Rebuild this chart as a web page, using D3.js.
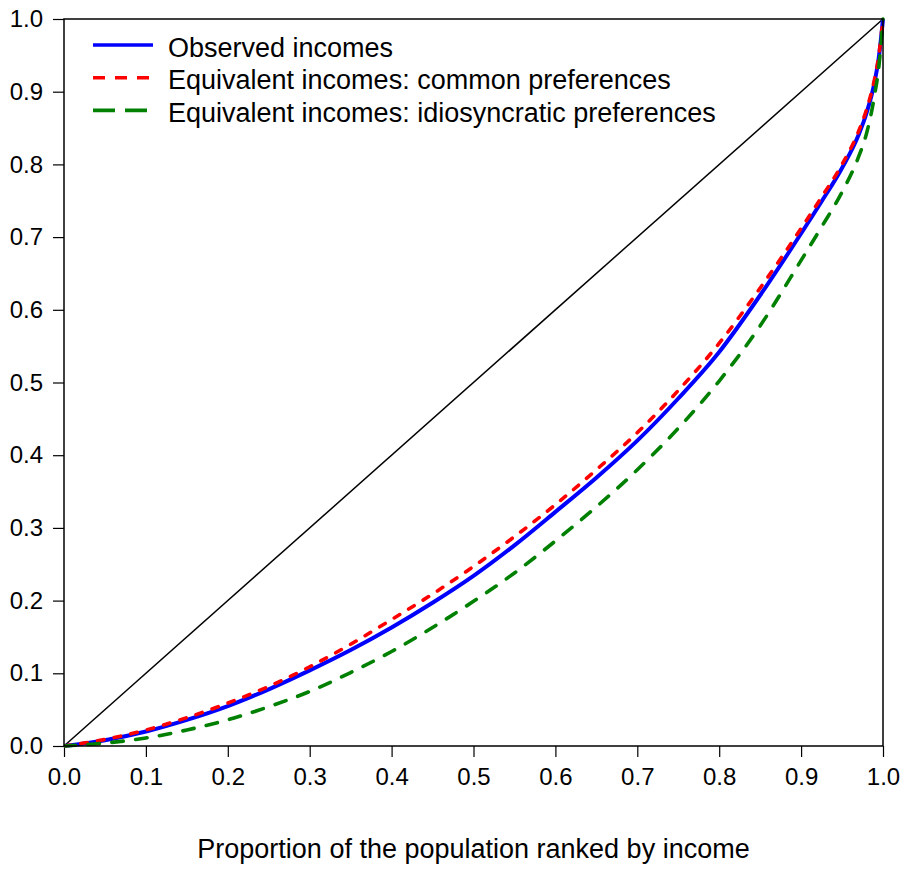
<!DOCTYPE html>
<html>
<head>
<meta charset="utf-8">
<script src="https://cdn.jsdelivr.net/npm/d3@7"></script>
<style>
  html, body { margin: 0; padding: 0; background: #fff; }
  svg { display: block; }
  text { font-family: "Liberation Sans", Arial, sans-serif; fill: #000; }
</style>
</head>
<body>
<svg id="chart" width="905" height="869"></svg>
<script>
// ---- data ----
const popShare   = [0, 0.05, 0.1, 0.15, 0.2, 0.25, 0.3, 0.35, 0.4, 0.45, 0.5, 0.55, 0.6, 0.65, 0.7, 0.75, 0.8, 0.85, 0.9, 0.925, 0.95, 0.97, 0.98, 0.99, 0.995, 1.0];
const observed   = [0, 0.008, 0.020, 0.036, 0.055, 0.078, 0.104, 0.132, 0.163, 0.197, 0.234, 0.276, 0.322, 0.369, 0.420, 0.478, 0.542, 0.620, 0.705, 0.749, 0.795, 0.840, 0.871, 0.915, 0.948, 1.0];
const commonPref = [0, 0.009, 0.022, 0.039, 0.059, 0.082, 0.109, 0.140, 0.174, 0.209, 0.247, 0.288, 0.332, 0.380, 0.431, 0.489, 0.554, 0.630, 0.712, 0.755, 0.800, 0.845, 0.876, 0.919, 0.951, 1.0];
const idioPref   = [0, 0.004, 0.011, 0.022, 0.036, 0.054, 0.075, 0.101, 0.130, 0.163, 0.199, 0.238, 0.282, 0.329, 0.380, 0.437, 0.502, 0.578, 0.668, 0.714, 0.762, 0.810, 0.843, 0.897, 0.935, 1.0];
const equality = [0, 1];
const equalityX = [0, 1];
const seriesNames = ["Observed incomes", "Equivalent incomes: common preferences", "Equivalent incomes: idiosyncratic preferences"];
const tickValues = [0, 0.1, 0.2, 0.3, 0.4, 0.5, 0.6, 0.7, 0.8, 0.9, 1.0];
const xTitle = "Proportion of the population ranked by income";

// ---- layout ----
const svg = d3.select("#chart");
const pLeft = 64, pRight = 883, pTop = 19, pBottom = 746;
const x = d3.scaleLinear().domain([0, 1]).range([pLeft, pRight]);
const y = d3.scaleLinear().domain([0, 1]).range([pBottom, pTop]);
const FS = 24, FS_BIG = 27;

const styles = [
  { color: "#0000ff", width: 4, dash: null, legendDash: null, cap: "butt" },
  { color: "#ff0000", width: 3.6, dash: "6.5,10.5", legendDash: "12,10", cap: "round" },
  { color: "#008000", width: 3.6, dash: "11.5,12.5", legendDash: "22,10", cap: "round" }
];
const series = [observed, commonPref, idioPref];

// axes
const yAxis = d3.axisLeft(y).tickValues(tickValues).tickFormat(d3.format(".1f")).tickSize(11).tickPadding(10);
const xAxis = d3.axisBottom(x).tickValues(tickValues).tickFormat(d3.format(".1f")).tickSize(11).tickPadding(11);

const gy = svg.append("g").attr("transform", `translate(${pLeft},0)`).call(yAxis);
const gx = svg.append("g").attr("transform", `translate(0,${pBottom})`).call(xAxis);
[gy, gx].forEach(g => {
  g.select(".domain").remove();
  g.selectAll(".tick line").attr("stroke", "#000").attr("stroke-width", 1.2);
  g.selectAll(".tick text").attr("font-size", FS).attr("font-family", "Liberation Sans, Arial, sans-serif").attr("fill", "#000");
});

// diagonal
const diag = d3.line().x((d, i) => x(equalityX[i])).y(d => y(d));
svg.append("path").datum(equality).attr("d", diag)
  .attr("fill", "none").attr("stroke", "#000").attr("stroke-width", 1.5);

// curves
const line = d3.line().x((d, i) => x(popShare[i])).y(d => y(d)).curve(d3.curveMonotoneX);
const clipId = "plotclip";
svg.append("clipPath").attr("id", clipId).append("rect")
  .attr("x", pLeft).attr("y", pTop - 2).attr("width", pRight - pLeft + 2).attr("height", pBottom - pTop + 4);
series.forEach((s, i) => {
  const st = styles[i];
  svg.append("path").datum(s).attr("d", line)
    .attr("clip-path", `url(#${clipId})`)
    .attr("fill", "none").attr("stroke", st.color).attr("stroke-width", st.width)
    .attr("stroke-dasharray", st.dash).attr("stroke-linecap", st.cap);
});

// frame
svg.append("rect").attr("x", pLeft).attr("y", pTop).attr("width", pRight - pLeft).attr("height", pBottom - pTop)
  .attr("fill", "none").attr("stroke", "#000").attr("stroke-width", 1.5);

// legend
const legendY = [45, 77.7, 110.4];
seriesNames.forEach((name, i) => {
  const st = styles[i];
  svg.append("line").attr("x1", 93).attr("x2", 153).attr("y1", legendY[i]).attr("y2", legendY[i])
    .attr("stroke", st.color).attr("stroke-width", 3.6).attr("stroke-dasharray", st.legendDash);
  svg.append("text").attr("x", 168).attr("y", legendY[i] + 11.5).attr("font-size", FS_BIG).text(name);
});

// x title
svg.append("text").attr("x", (pLeft + pRight) / 2).attr("y", 858).attr("text-anchor", "middle")
  .attr("font-size", FS_BIG).text(xTitle);
</script>
</body>
</html>
